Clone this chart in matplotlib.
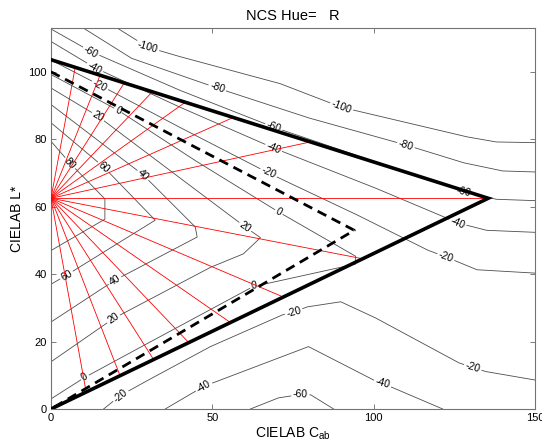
import matplotlib
matplotlib.use("Agg")
import matplotlib.pyplot as plt
import numpy as np

plt.rcParams['font.family'] = ['Liberation Sans', 'DejaVu Sans']

# NCS triangles in the (C*ab, L*) plane
solid_C = [0, 135.5, 0]
solid_L = [103.6, 62.5, 0]
dashed_C = [0, 94, 0]
dashed_L = [100, 53, 0]

# red fan: common start point and chroma of the end points on the solid edges
fan_L0 = 62.5
fan_upper_C = [7.5, 15.2, 22.7, 31.4, 41.6, 56.5, 80.4, 135.5]
fan_lower_C = [10.9, 21.4, 31.8, 42.7, 55.6, 72.0, 96.6]

# contour lines (C, L) and their label positions
m100 = [(20.5, 113), (30, 107.3), (40, 104.5), (71, 96.5), (90, 89.5), (129, 80.7), (138, 79.2), (150, 79)]
m100_lab = [(30, 107.3), (90, 89.5)]
m80 = [(10, 113), (25, 104), (51.5, 95.2), (80, 86.3), (110, 78.3), (128, 73), (140, 70.6), (150, 70.3)]
m80_lab = [(51.5, 95.2), (110, 78.3)]
m60 = [(0, 112.7), (12.4, 106), (40, 94.5), (69, 83.6), (100, 73.5), (128, 64.5), (138, 62.2), (150, 61.8)]
m60_lab = [(12.4, 106), (69, 83.6), (128, 64.5)]
m40 = [(0, 109), (13.6, 101.2), (40, 89.5), (69, 77.4), (100.6, 65.5), (121.7, 57), (126, 55.2), (135, 53), (150, 52.4)]
m40_lab = [(13.6, 101.2), (69, 77.4), (126, 55.2)]
m20 = [(0, 103.5), (15.2, 96), (40, 83.5), (67.4, 70), (95, 57.5), (116.8, 47.1), (122.4, 45.1), (132, 41.3), (150, 40.3)]
m20_lab = [(15.2, 96), (67.4, 70), (122.4, 45.1)]
z0 = [(0, 99.2), (20.8, 88.6), (45, 73.5), (70.6, 58.4), (94.4, 45.3), (94.4, 43), (65, 36.8), (63, 36.5),
      (30, 19.5), (10.5, 9.4), (0, 3)]
z0_lab = [(20.8, 88.6), (70.6, 58.4), (63, 36.5), (10.5, 9.4)]
p20 = [(0, 95.2), (14.6, 86.8), (40, 68.5), (60.2, 54), (64.9, 50.8), (59.6, 46), (49.4, 42), (19.3, 26.8), (0, 14)]
p20_lab = [(14.6, 86.8), (60.2, 54), (19.3, 26.8)]
p40 = [(0, 90.3), (28.6, 69.4), (44.7, 54), (45.3, 51), (19.8, 38.2), (0, 25.8)]
p40_lab = [(28.6, 69.4), (19.8, 38.2)]
p60 = [(0, 84.9), (16.3, 71.8), (32.3, 56), (4.8, 39.7), (0, 37)]
p60_lab = [(16.3, 71.8), (4.8, 39.7)]
p80 = [(0, 79.4), (5.9, 72.9), (16.7, 62.3), (16.7, 56.3), (0, 47)]
p80_lab = [(5.9, 72.9)]
m20_low = [(16.3, 0), (21.5, 4), (30, 8.5), (49.4, 18.5), (71.7, 27.9), (75.2, 28.8), (79.5, 30.3), (89.8, 31.8),
           (100.6, 27), (126.4, 13.7), (130.7, 12.3), (134.8, 11.1), (150, 8.6)]
m20_low_lab = [(21.5, 4), (75.2, 28.8), (130.7, 12.3)]
m40_low = [(35.4, 0), (47.3, 6.7), (79.8, 18.5), (101, 8.1), (102.8, 7.6), (121.4, 0)]
m40_low_lab = [(47.3, 6.7), (102.8, 7.6)]
m60_low = [(61.8, 0), (70.5, 3.3), (77.3, 4.3), (80.5, 4.2), (87.6, 0)]
m60_low_lab = [(77.3, 4.3)]

contours = [(-100, m100, m100_lab), (-80, m80, m80_lab), (-60, m60, m60_lab), (-40, m40, m40_lab),
            (-20, m20, m20_lab), (0, z0, z0_lab), (20, p20, p20_lab), (40, p40, p40_lab),
            (60, p60, p60_lab), (80, p80, p80_lab), (-20, m20_low, m20_low_lab),
            (-40, m40_low, m40_low_lab), (-60, m60_low, m60_low_lab)]

fig = plt.figure(figsize=(5.42, 4.44), dpi=100)
ax = fig.add_axes([51 / 542, 1 - 409 / 444, 484 / 542, 381 / 444])
ax.set_xlim(0, 150)
ax.set_ylim(0, 113)

for level, line, labels in contours:
    pts = np.array(line, dtype=float)
    ax.plot(pts[:, 0], pts[:, 1], color='0.3', lw=0.6, zorder=2)
    disp = ax.transData.transform(pts)
    mids = (disp[:-1] + disp[1:]) / 2
    for lc, ll in labels:
        p = ax.transData.transform((lc, ll))
        # label follows the direction of the nearest segment on screen
        i = np.argmin(np.hypot(*(mids - p).T))
        dx, dy = disp[i + 1] - disp[i]
        ang = np.degrees(np.arctan2(dy, dx))
        if ang > 90:
            ang -= 180
        elif ang < -90:
            ang += 180
        ax.text(lc, ll, '%d' % level, fontsize=7.5, rotation=ang, rotation_mode='anchor',
                ha='center', va='center', zorder=3,
                bbox=dict(boxstyle='square,pad=0.15', fc='white', ec='none'))

# red fan from the grey axis point to the solid boundary
up_L = np.interp(fan_upper_C, [solid_C[0], solid_C[1]], [solid_L[0], solid_L[1]])
low_L = np.interp(fan_lower_C, [solid_C[2], solid_C[1]], [solid_L[2], solid_L[1]])
for c, l in zip(fan_upper_C, up_L):
    ax.plot([0, c], [fan_L0, l], color='red', lw=0.6, zorder=4)
for c, l in zip(fan_lower_C, low_L):
    ax.plot([0, c], [fan_L0, l], color='red', lw=0.6, zorder=4)

ax.plot(solid_C, solid_L, color='black', lw=2.6, zorder=6, solid_joinstyle='miter')
ax.plot(dashed_C, dashed_L, color='black', lw=2.0, ls=(0, (3.5, 2.2)), zorder=5)

ax.set_xticks([0, 50, 100, 150])
ax.set_yticks([0, 20, 40, 60, 80, 100])
ax.tick_params(direction='in', length=3.5, width=0.6, top=True, right=True,
               labelsize=8, color='0.4', pad=3)
for s in ax.spines.values():
    s.set_color('0.45')
    s.set_linewidth(0.8)

ax.set_xlabel('CIELAB C$_{\\mathregular{ab}}$', fontsize=10, labelpad=2)
ax.set_ylabel('CIELAB L*', fontsize=10, labelpad=3)
ax.set_title('NCS Hue=   R', fontsize=10.5, pad=6)

fig.savefig('out.png', dpi=100)
